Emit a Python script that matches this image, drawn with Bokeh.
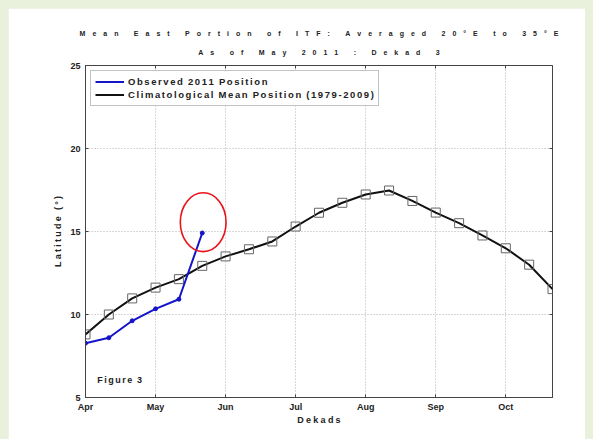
from bokeh.plotting import figure
from bokeh.models import FixedTicker, LinearAxis, Title, Label, Range1d
from bokeh.embed import file_html
from bokeh.resources import INLINE

# ---- data ----
dekads = list(range(1, 22))
clim_lat = [8.8, 10.0, 10.97, 11.62, 12.13, 12.93, 13.5, 13.93, 14.4, 15.3, 16.13,
            16.73, 17.23, 17.47, 16.84, 16.14, 15.5, 14.76, 13.99, 13.0, 11.53]
obs_dekads = [1, 2, 3, 4, 5, 6]
obs_lat = [8.27, 8.6, 9.62, 10.34, 10.92, 14.91]
month_ticks = [1, 4, 7, 10, 13, 16, 19]
month_labels = ["Apr", "May", "Jun", "Jul", "Aug", "Sep", "Oct"]
lat_ticks = [5, 10, 15, 20, 25]

title1 = "Mean East Portion of ITF: Averaged 20°E to 35°E"
title2 = "As of May 2011 : Dekad 3"
xlabel = "Dekads"
ylabel = "Latitude (°)"
obs_name = "Observed 2011 Position"
clim_name = "Climatological Mean Position (1979-2009)"
fig_note = "Figure 3"

FONT = "Liberation Sans"


def spaced(s, sep):
    return sep.join("\u2009" if c == " " else c for c in s)


p = figure(width=577, height=431, output_backend="svg", toolbar_location=None,
           x_range=Range1d(1, 21), y_range=Range1d(5, 25),
           min_border_left=77, min_border_right=33, min_border_top=57,
           min_border_bottom=42, title=spaced(title1, "\u2003"))

try:
    from bokeh.models import GlobalInlineStyleSheet
    p.stylesheets = [GlobalInlineStyleSheet(
        css="html,body{background-color:#e9f1dc;overflow:hidden;} body{margin:8px 8px 0 8px;}")]
except Exception:
    pass

p.border_fill_color = "white"
p.background_fill_color = "white"
p.outline_line_color = "#444444"
p.outline_line_width = 1

p.title.align = "center"
p.title.text_font = FONT
p.title.text_font_size = "7px"
p.title.text_font_style = "bold"
p.title.text_color = "#222222"
p.title.standoff = 2
p.title.offset = 2

xt = FixedTicker(ticks=month_ticks)
yt = FixedTicker(ticks=lat_ticks)
overrides = {t: l for t, l in zip(month_ticks, month_labels)}

for ax in (p.xaxis[0], p.yaxis[0]):
    ax.major_tick_in = 3
    ax.major_tick_out = 0
    ax.minor_tick_line_color = None
    ax.axis_line_color = "#444444"
    ax.major_tick_line_color = "#444444"
    ax.major_label_text_font = FONT
    ax.major_label_text_font_size = "9px"
    ax.major_label_text_font_style = "bold"
    ax.major_label_text_color = "#222222"
    ax.axis_label_text_font = FONT
    ax.axis_label_text_font_size = "9px"
    ax.axis_label_text_font_style = "bold"
    ax.axis_label_text_color = "#222222"

p.xaxis[0].ticker = xt
p.xaxis[0].major_label_overrides = overrides
p.xaxis[0].major_label_standoff = 4
p.xaxis[0].axis_label = spaced(xlabel, "\u2005")
p.xaxis[0].axis_label_standoff = 0
p.yaxis[0].ticker = yt
p.yaxis[0].major_label_standoff = 5
p.yaxis[0].axis_label = spaced(ylabel, "\u2005")
p.yaxis[0].axis_label_standoff = 4

# box ticks on the top and right sides (no labels)
top_ax = LinearAxis(ticker=xt, major_tick_in=3, major_tick_out=0,
                    major_label_text_font_size="1px", major_label_text_color=None,
                    major_label_standoff=0,
                    minor_tick_line_color=None, axis_line_color=None,
                    major_tick_line_color="#444444")
right_ax = LinearAxis(ticker=yt, major_tick_in=3, major_tick_out=0,
                      major_label_text_font_size="1px", major_label_text_color=None,
                      major_label_standoff=0,
                      minor_tick_line_color=None, axis_line_color=None,
                      major_tick_line_color="#444444")
p.add_layout(top_ax, "above")
p.add_layout(right_ax, "right")

sub = Title(text=spaced(title2, "\u2003"), align="center", text_font=FONT,
            text_font_size="7px", text_font_style="bold", text_color="#222222",
            standoff=19, offset=2)
p.add_layout(sub, "above")

p.xgrid.ticker = xt
p.ygrid.ticker = yt
for g in (p.xgrid[0], p.ygrid[0]):
    g.grid_line_color = "#b0b0b0"
    g.grid_line_dash = "1 2"
    g.grid_line_width = 1

# climatology
p.line(dekads, clim_lat, line_color="#111111", line_width=2,
       legend_label=spaced(clim_name, "\u2006"))
p.scatter(dekads, clim_lat, marker="square", size=9, fill_color=None,
          line_color="#666666", line_width=1)

# observed
p.line(obs_dekads, obs_lat, line_color="#1414c8", line_width=2,
       legend_label=spaced(obs_name, "\u2006"))
p.scatter(obs_dekads, obs_lat, marker="circle", size=4, fill_color="#1414c8",
          line_color="#1414c8")

# highlight around latest observation
p.ellipse(x=[obs_dekads[-1] + 0.04], y=[obs_lat[-1] + 0.65], width=1.96, height=3.55,
          fill_color=None, line_color="#e8141a", line_width=1.6)

note = Label(x=1.5, y=6.08, text=spaced(fig_note, "\u2006"), text_font=FONT,
             text_font_size="9px", text_font_style="bold", text_color="#222222",
             text_baseline="middle", text_align="left")
p.add_layout(note)

lg = p.legend[0]
items = list(lg.items)
lg.items = [items[1], items[0]]
lg.location = "top_left"
lg.margin = 5
lg.padding = 4
lg.spacing = 0
lg.glyph_width = 29
lg.glyph_height = 13
lg.label_height = 13
lg.label_standoff = 4
lg.label_text_font = FONT
lg.label_text_font_size = "9.5px"
lg.label_text_font_style = "bold"
lg.label_text_color = "#222222"
lg.border_line_color = "#888888"
lg.border_line_width = 1
lg.background_fill_alpha = 1

open("out.html", "w").write(file_html(p, INLINE))
